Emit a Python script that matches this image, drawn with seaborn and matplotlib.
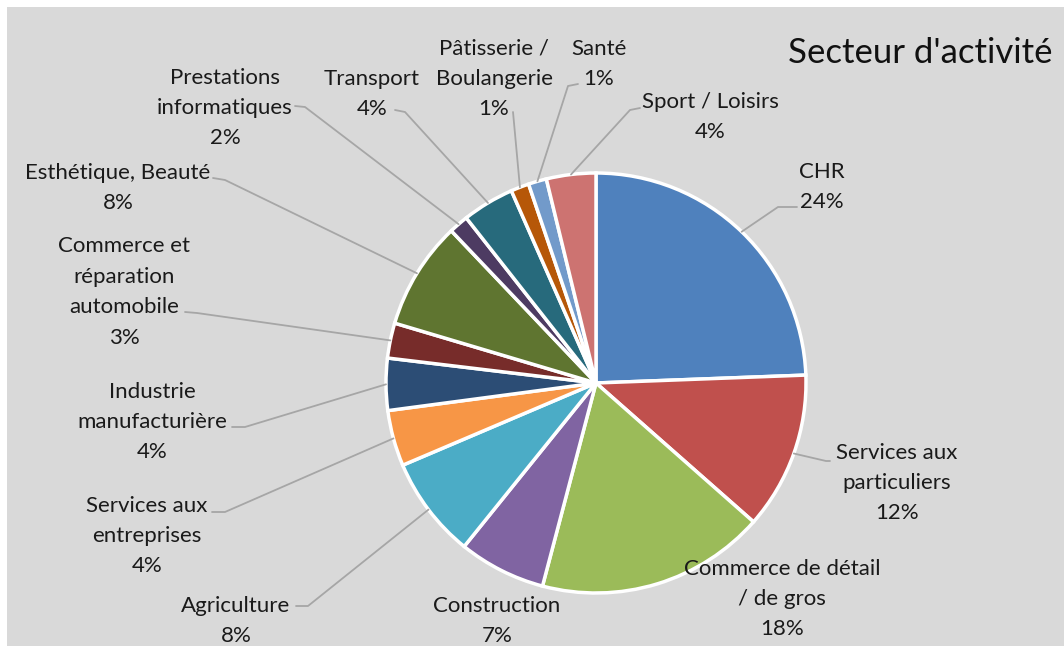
import numpy as np
import matplotlib
matplotlib.use("Agg")
import matplotlib.pyplot as plt
from matplotlib.patches import Rectangle
import seaborn as sns

# data (share of each sector, %), clockwise from 12 o'clock
sectors = [
    "CHR", "Services aux\nparticuliers", "Commerce de détail\n/ de gros",
    "Construction", "Agriculture", "Services aux\nentreprises",
    "Industrie\nmanufacturière", "Commerce et\nréparation\nautomobile",
    "Esthétique, Beauté", "Prestations\ninformatiques", "Transport",
    "Pâtisserie /\nBoulangerie", "Santé", "Sport / Loisirs",
]
shares = [24.4, 12.1, 17.6, 6.7, 7.8, 4.3, 4.0, 2.7, 8.3, 1.5, 4.0, 1.4, 1.4, 3.8]
colors = ["#4F81BD", "#C0504D", "#9BBB59", "#8064A2", "#4BACC6", "#F79646",
          "#2C4D75", "#772C2A", "#5F7530", "#4D3B62", "#276A7C", "#B65708",
          "#729ACA", "#CD7371"]

# label layout in pixel coords (y down): text centre, elbow point (None = no leader)
label_xy = [(822, 187), (897, 483), (782, 599), (497, 621), (236, 621), (147, 536),
            (152, 422), (124, 292), (118, 188), (225, 108), (372, 94),
            (494, 79), (599, 64), (710, 117)]
elbows = [((778, 207), (797, 207)), ((826, 461), (830, 461)), None, None,
          ((308, 606), (296, 606)), ((225, 512), (212, 512)),
          ((245, 427), (232, 427)), ((197, 313), (185, 312)),
          ((225, 180), (213, 178)), ((305, 107), (295, 106)),
          ((405, 112), (395, 110)), ((513, 112), (513, 112)),
          ((568, 86), (578, 84)), ((630, 110), (640, 108))]

W, H = 1064, 646
cx, cy, R = 596, 383, 210

sns.set_style("white")
plt.rcParams["font.family"] = ["Lato", "DejaVu Sans"]

fig = plt.figure(figsize=(W / 100, H / 100), dpi=100)
ax = fig.add_axes([0, 0, 1, 1])

def fy(y):
    return H - y

ax.add_patch(Rectangle((7, 0), W - 7, H - 7, facecolor="#D9D9D9", edgecolor="none", zorder=0))

pal = sns.color_palette(colors)
wedges, _ = ax.pie(shares, colors=pal, startangle=90, counterclock=False,
                   center=(cx, fy(cy)), radius=R,
                   wedgeprops=dict(edgecolor="white", linewidth=2.5))

# labels + leader lines
cum = np.cumsum([0] + shares)
for i, (name, v) in enumerate(zip(sectors, shares)):
    tx, ty = label_xy[i]
    ax.text(tx, fy(ty), f"{name}\n{v:.0f}%", ha="center", va="center",
            fontsize=16, color="#1a1a1a", linespacing=1.65, zorder=5)
    if elbows[i] is not None:
        mid = (cum[i] + cum[i + 1]) / 2 / 100 * 2 * np.pi
        sx = cx + R * np.sin(mid)
        sy = cy - R * np.cos(mid)
        (ex, ey), (hx, hy) = elbows[i]
        ax.plot([sx, ex, hx], [fy(sy), fy(ey), fy(hy)], color="#A6A6A6", lw=1.3, zorder=4)

ax.text(1052, fy(53), "Secteur d'activité", ha="right", va="center",
        fontsize=25, color="#111111")

ax.set_xlim(0, W)
ax.set_ylim(0, H)
ax.set_aspect("equal")
ax.axis("off")

fig.savefig("out.png", dpi=100, facecolor="white")
